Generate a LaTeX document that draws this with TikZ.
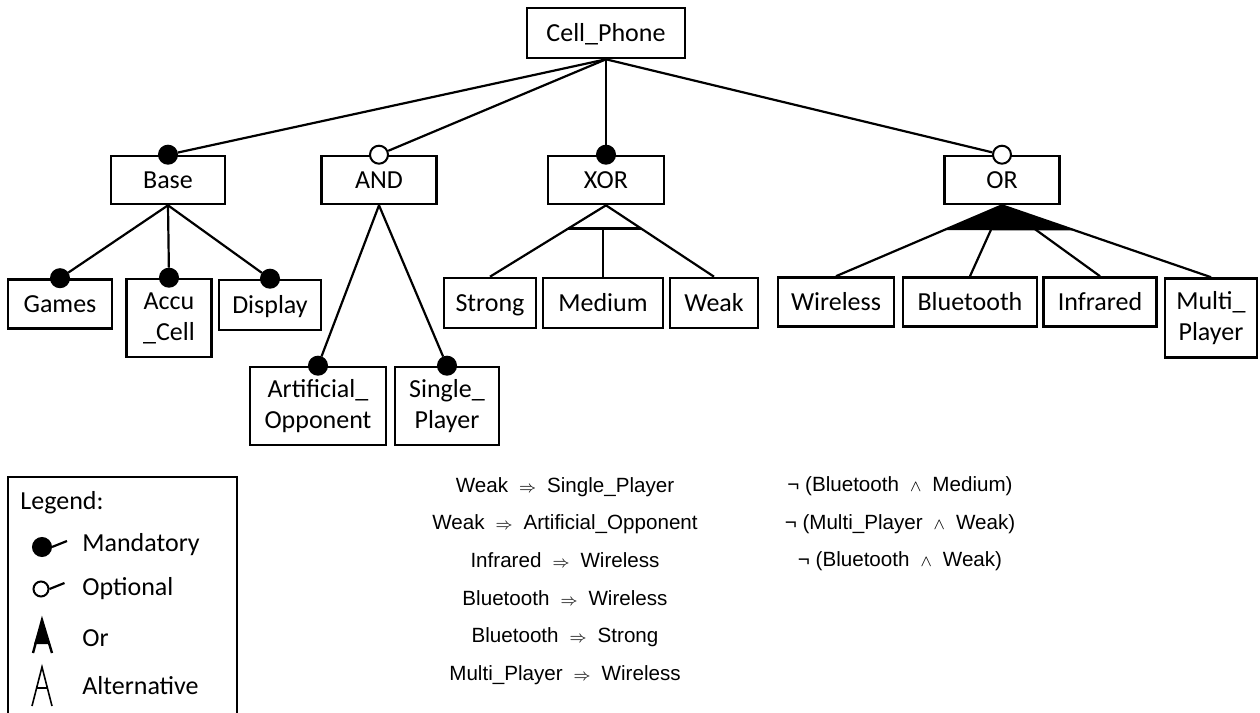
\documentclass[tikz,border=0pt]{standalone}
\usepackage{fontspec}
\setmainfont{Carlito}
\newfontfamily\rulefont{Liberation Sans}
\usetikzlibrary{calc}
\newcommand{\implsym}{\hspace{5.5pt}{\footnotesize$\Rightarrow$}\hspace{5.5pt}}
\newcommand{\andsym}{\hspace{5.5pt}{\footnotesize$\wedge$}\hspace{5.5pt}}

\begin{document}
\begin{tikzpicture}[x=0.5pt,y=-0.5pt,
  feat/.style={draw, line width=1.3pt, inner sep=0pt, align=center, font={\fontsize{13}{15.5}\selectfont}},
  one/.style={feat, text height=10.5pt, text depth=2pt},
  mand/.style={circle, draw, fill=black, line width=1pt, inner sep=0pt, minimum size=9pt},
  opt/.style={mand, fill=white},
  conn/.style={line width=1.1pt},
  rule/.style={align=center, font={\rulefont\fontsize{10.3}{18.8}\selectfont}},
  leg/.style={anchor=west, inner sep=0pt, font={\fontsize{13}{15.5}\selectfont}}]
\useasboundingbox (0,0) rectangle (1260,713);

\node[one, minimum width=79pt, minimum height=25pt] (cell) at (606,33) {Cell\_Phone};

\node[one, minimum width=57pt, minimum height=24pt] (base) at (168,180) {Base};
\node[one, minimum width=57.5pt, minimum height=24pt] (andf) at (379,180) {AND};
\node[one, minimum width=58pt, minimum height=24pt] (xorf) at (606,180) {XOR};
\node[one, minimum width=57.5pt, minimum height=24pt] (orf) at (1002,180) {OR};

\node[one, minimum width=52pt, minimum height=24.5pt] (games) at (60,304) {Games};
\node[feat, minimum width=42.5pt, minimum height=39pt] (accu) at (169,318) {Accu\\\_Cell};
\node[one, minimum width=51pt, minimum height=25pt] (display) at (270,305) {Display};

\node[feat, minimum width=68pt, minimum height=39pt] (artif) at (318,406) {Artificial\_\\Opponent};
\node[feat, minimum width=52pt, minimum height=39pt] (single) at (447,406) {Single\_\\Player};

\node[one, minimum width=46pt, minimum height=25pt] (strong) at (490,303) {Strong};
\node[one, minimum width=60pt, minimum height=25pt] (medium) at (603,303) {Medium};
\node[one, minimum width=44pt, minimum height=25pt] (weak) at (714,303) {Weak};

\node[one, minimum width=58pt, minimum height=24.5pt] (wireless) at (836,302) {Wireless};
\node[one, minimum width=67pt, minimum height=24.5pt] (bluetooth) at (970,302) {Bluetooth};
\node[one, minimum width=56.5pt, minimum height=24.5pt] (infrared) at (1100,302) {Infrared};
\node[feat, minimum width=46pt, minimum height=39.5pt] (multi) at (1211,318) {Multi\_\\Player};

% mandatory / optional marks
\node[mand] (mbase) at (base.north) {};
\node[opt] (mand) at (andf.north) {};
\node[mand] (mxor) at (xorf.north) {};
\node[opt] (mor) at (orf.north) {};
\node[mand] (mgames) at (games.north) {};
\node[mand] (maccu) at (accu.north) {};
\node[mand] (mdisplay) at (display.north) {};
\node[mand] (martif) at (artif.north) {};
\node[mand] (msingle) at (single.north) {};

\draw[conn] (cell.south) -- (mbase);
\draw[conn] (cell.south) -- (mand);
\draw[conn] (cell.south) -- (mxor);
\draw[conn] (cell.south) -- (mor);

\draw[conn] (base.south) -- (mgames);
\draw[conn] (base.south) -- (maccu);
\draw[conn] (base.south) -- (mdisplay);

\draw[conn] (andf.south) -- (martif);
\draw[conn] (andf.south) -- (msingle);

% alternative group
\coordinate (xl) at ($(xorf.south)!0.324!(strong.north)$);
\coordinate (xr) at ($(xorf.south)!0.324!(weak.north)$);
\draw[conn] (xorf.south) -- (strong.north);
\draw[conn] (xorf.south) -- (weak.north);
\draw[conn] (xl) -- (xr);
\draw[conn] (medium.north |- xl) -- (medium.north);

% or group
\draw[conn] (orf.south) -- (wireless.north);
\draw[conn] (orf.south) -- (bluetooth.north);
\draw[conn] (orf.south) -- (infrared.north);
\draw[conn] (orf.south) -- (multi.north);
\coordinate (ol) at ($(orf.south)!0.35!(wireless.north)$);
\coordinate (or) at ($(orf.south)!0.35!(multi.north)$);
\fill (orf.south) -- (ol) -- (or) -- cycle;

% legend
\draw[line width=1.3pt] (8,713) |- (237,477) -- (237,713);
\node[leg] (lgtitle) at (20,503) {Legend:};
\node[leg] (lgmand) at (82,545) {Mandatory};
\node[leg] (lgopt) at (82,589) {Optional};
\node[leg] (lgor) at (82,638) {Or};
\node[leg] (lgalt) at (82,686) {Alternative};

\node[mand, minimum size=9pt] (smand) at (42,547) {};
\draw[conn] (smand.east) -- ++(15,-6);
\node[opt, minimum size=7.5pt] (sopt) at (41,589) {};
\draw[conn] (sopt.east) -- ++(15,-6);
\fill (42,620) -- (34,644) -- (50,644) -- cycle;
\draw[line width=1.2pt] (33,653) -- (42,620) -- (52,653);
\draw[line width=0.8pt] (32,706) -- (42,667) -- (52,706);
\draw[line width=0.8pt] (36.5,688) -- (47.5,688);

% constraints
\node[rule] (impl) at (565,581) {Weak\implsym Single\_Player\\
Weak\implsym Artificial\_Opponent\\
Infrared\implsym Wireless\\
Bluetooth\implsym Wireless\\
Bluetooth\implsym Strong\\
Multi\_Player\implsym Wireless};
\node[rule] (excl) at (900,524) {¬ (Bluetooth\andsym Medium)\\
¬ (Multi\_Player\andsym Weak)\\
¬ (Bluetooth\andsym Weak)};
\end{tikzpicture}
\end{document}
